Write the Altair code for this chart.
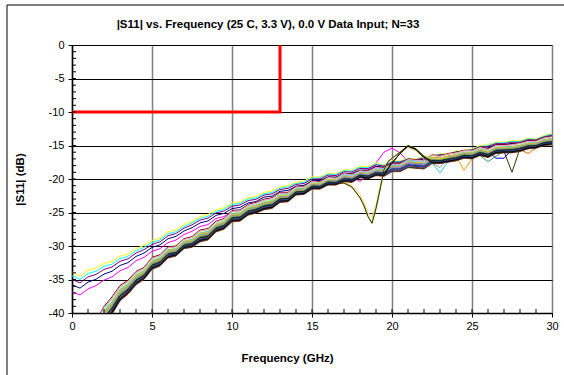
import altair as alt
import pandas as pd

# ---------------- data ----------------
FREQ = [0.0, 0.5, 1.0, 1.5, 2.0, 2.5, 3.0, 3.5, 4.0, 4.5, 5.0, 5.5, 6.0, 6.5, 7.0, 7.5,
        8.0, 8.5, 9.0, 9.5, 10.0, 10.5, 11.0, 11.5, 12.0, 12.5, 13.0, 13.5, 14.0, 14.5,
        15.0, 15.5, 16.0, 16.5, 17.0, 17.5, 18.0, 18.5, 19.0, 19.5, 20.0, 20.5, 21.0,
        21.5, 22.0, 22.5, 23.0, 23.5, 24.0, 24.5, 25.0, 25.5, 26.0, 26.5, 27.0, 27.5,
        28.0, 28.5, 29.0, 29.5, 30.0]

# upper family (series 1-5): top edge (yellow) and bottom edge (magenta)
UPPER_TOP = [-33.9, -34.5, -33.6, -33.3, -32.6, -32.3, -31.5, -31.2, -30.4, -29.9,
             -29.2, -28.8, -27.9, -27.6, -26.8, -26.3, -25.6, -25.3, -24.6, -24.3,
             -23.6, -23.4, -22.8, -22.6, -22.0, -21.8, -21.2, -21.0, -20.5, -20.3,
             -19.7, -19.7, -19.1, -19.2, -18.6, -18.7, -18.1, -18.2, -17.6, -17.9,
             -17.3, -17.3, -16.9, -17.0, -16.6, -16.6, -16.2, -16.3, -15.8, -15.8,
             -15.5, -15.0, -14.9, -14.5, -14.5, -14.3, -14.3, -13.9, -14.0, -13.5, -13.2]
UPPER_BOT = [-36.9, -37.3, -36.4, -35.9, -35.1, -34.6, -33.7, -33.2, -32.2, -31.7,
             -30.8, -30.4, -29.5, -29.1, -28.3, -27.8, -27.1, -26.8, -25.9, -25.6,
             -24.9, -24.7, -24.0, -23.8, -23.1, -23.0, -22.2, -22.1, -21.4, -21.3,
             -20.6, -20.5, -20.0, -20.0, -19.5, -19.4, -19.0, -18.9, -18.4, -18.4,
             -17.8, -17.8, -17.4, -17.5, -17.2, -17.1, -16.7, -16.8, -16.3, -16.3,
             -16.0, -15.7, -15.6, -15.1, -15.1, -14.9, -14.9, -14.5, -14.5, -14.1, -13.9]
# lower family (series 6-33): left/top edge and right/bottom edge
LOWER_TOP = [-47.0, -45.5, -43.6, -41.2, -39.0, -37.6, -35.9, -35.1, -33.8, -33.2,
             -31.7, -31.3, -30.1, -30.0, -28.9, -28.6, -27.6, -27.4, -26.3, -25.9,
             -24.7, -24.6, -23.8, -23.5, -23.0, -22.8, -22.0, -22.0, -21.1, -21.1,
             -20.3, -20.4, -19.7, -19.8, -19.1, -19.3, -18.7, -18.8, -18.2, -18.3,
             -17.7, -17.7, -17.0, -17.1, -17.2, -16.4, -16.5, -16.2, -16.0, -15.7,
             -15.7, -15.2, -15.5, -14.9, -14.9, -14.8, -14.6, -14.3, -14.3, -13.8, -13.6]
LOWER_BOT = [-50.0, -48.5, -46.3, -43.8, -41.6, -40.2, -38.2, -37.2, -35.8, -35.0,
             -33.5, -33.0, -31.8, -31.5, -30.4, -30.2, -29.4, -29.1, -27.9, -27.5,
             -26.4, -26.3, -25.4, -25.1, -24.6, -24.4, -23.5, -23.4, -22.4, -22.3,
             -21.5, -21.5, -20.9, -20.9, -20.4, -20.5, -19.8, -20.0, -19.5, -19.6,
             -18.9, -18.9, -18.3, -18.4, -18.5, -17.7, -17.7, -17.5, -17.3, -16.9,
             -17.0, -16.5, -16.8, -16.2, -16.1, -16.1, -15.9, -15.5, -15.4, -15.0, -14.9]

SERIES_COLORS = ["#000080", "#FF00FF", "#FFFF00", "#00FFFF", "#800080", "#800000",
                 "#008080", "#0000FF", "#00CCFF", "#CCFFFF", "#CCFFCC", "#FFFF99",
                 "#99CCFF", "#FF99CC", "#CC99FF", "#FFCC99", "#3366FF", "#33CCCC",
                 "#99CC00", "#FFCC00", "#FF9900", "#FF6600", "#666699", "#969696",
                 "#003366", "#339966", "#003300", "#333300", "#993300", "#993366",
                 "#333399", "#333333", "#000000"]
# position of each series inside its family band (0 = top edge, 1 = bottom edge)
UPPER_POS = [0.64, 1.0, 0.0, 0.18, 0.36]
LOWER_POS = [0.0, 0.3, 0.45, 0.12, 0.22, 0.4, 0.18, 0.35, 0.08, 0.5, 0.55, 0.62, 0.26,
             0.48, 0.33, 0.68, 0.75, 0.58, 0.42, 0.7, 0.8, 0.65, 0.85, 1.0, 0.9, 0.78,
             0.95, 0.88]

# local features (freq -> dB)
DIP_A = {17.0: -20.6, 17.5: -21.2, 18.0: -22.8, 18.25: -24.0, 18.5: -25.6, 18.75: -26.6,
         19.0: -24.4, 19.25: -21.6, 19.5: -18.6, 19.75: -17.4, 20.0: -16.9, 20.5: -16.0,
         21.0: -15.0, 21.5: -15.5, 22.0: -16.6}
DIP_B = {17.0: -20.4, 17.5: -20.9, 18.0: -22.3, 18.25: -23.5, 18.5: -25.0, 18.75: -25.8,
         19.0: -23.9, 19.25: -21.2, 19.5: -18.5, 19.75: -17.5, 20.0: -17.0, 20.5: -16.1,
         21.0: -15.3, 21.5: -15.8, 22.0: -16.9}
BUMP = {20.0: -17.6, 20.5: -16.2, 21.0: -15.1, 21.5: -15.6, 22.0: -16.8}
MAGENTA_BUMP = {17.5: -19.6, 18.0: -20.4, 18.5: -19.3, 19.0: -17.6, 19.5: -16.0,
                20.0: -15.4, 20.5: -16.1, 21.0: -17.4}
OLIVE_V = {27.0: -15.9, 27.5: -19.0, 28.0: -15.4}
BLUE_DIP = {26.0: -15.9, 26.5: -16.9, 27.0: -16.9, 27.5: -15.6}
GREEN_DIP = {25.5: -16.5, 26.0: -17.4, 26.5: -16.6}
ORANGE_DIP = {24.0: -16.6, 24.5: -18.7, 25.0: -17.0}
ORANGE2_DIP = {28.0: -15.6, 28.5: -16.2, 29.0: -15.4}
CYAN_DIP = {22.5: -17.6, 23.0: -19.1, 23.5: -17.4}
PALE_DIP = {22.5: -17.8, 23.0: -18.8, 23.5: -17.5}
GRAY_DIP = {22.5: -17.6, 23.0: -18.3}
FEATURES = {2: [MAGENTA_BUMP], 11: [DIP_A], 12: [DIP_B], 16: [DIP_B], 19: [DIP_A],
            28: [DIP_A, OLIVE_V], 21: [BUMP, ORANGE_DIP], 27: [BUMP], 33: [BUMP],
            8: [BLUE_DIP], 26: [GREEN_DIP], 22: [ORANGE2_DIP], 18: [CYAN_DIP],
            10: [PALE_DIP], 24: [GRAY_DIP]}

SPEC_F = [0, 13, 13]
SPEC_DB = [-10, -10, 0]

X_TICKS = [0, 5, 10, 15, 20, 25, 30]
Y_TICKS = [0, -5, -10, -15, -20, -25, -30, -35, -40]
X_MINOR = list(range(1, 30))
Y_MINOR = list(range(-39, 0))

TITLE = "|S11| vs. Frequency (25 C, 3.3 V), 0.0 V Data Input; N=33"

# ---------------- build table ----------------
rows = []
names = []
for i in range(33):
    if i < 5:
        top, bot, t = UPPER_TOP, UPPER_BOT, UPPER_POS[i]
    else:
        top, bot, t = LOWER_TOP, LOWER_BOT, LOWER_POS[i - 5]
    pts = {f: a + t * (b - a) for f, a, b in zip(FREQ, top, bot)}
    for feat in FEATURES.get(i + 1, []):
        pts.update(feat)
    name = f"S{i + 1:02d}"
    names.append(name)
    for f in sorted(pts):
        rows.append({"series": name, "f": f, "db": round(pts[f], 2)})
curves = pd.DataFrame(rows)

W, H = 480, 268
FONT = "Liberation Sans"

x_scale = alt.Scale(domain=[0, 30], nice=False, zero=False)
y_scale = alt.Scale(domain=[-40, 0], nice=False, zero=False)
x_axis = alt.Axis(values=X_TICKS, title="Frequency (GHz)", grid=True, gridColor="#808080",
                  gridWidth=1.5, domainColor="#000000", domainWidth=1.5, tickColor="#000000",
                  tickSize=4, labelPadding=3, labelFontSize=11, labelFont=FONT,
                  labelColor="#000000", titleFont=FONT, titleFontSize=11.5,
                  titleFontWeight="bold", titleColor="#000000", titleX=215, titleY=45,
                  titleBaseline="middle", titleAlign="center", labelFlush=False,
                  labelExpr="datum.value + ''")
y_axis = alt.Axis(values=Y_TICKS, title="|S11| (dB)", grid=True, gridColor="#000000",
                  gridWidth=1, domainColor="#000000", domainWidth=1.5, tickColor="#000000",
                  tickSize=4, labelPadding=4, labelFontSize=11, labelFont=FONT,
                  labelColor="#000000", titleFont=FONT, titleFontSize=11.5,
                  titleFontWeight="bold", titleColor="#000000", titleX=-52, titleY=H / 2,
                  titleBaseline="middle", titleAlign="center",
                  labelExpr="datum.value + ''")

X = alt.X("f:Q", scale=x_scale, axis=x_axis)
Y = alt.Y("db:Q", scale=y_scale, axis=y_axis)

lines = alt.Chart(curves).mark_line(strokeWidth=1, clip=True).encode(
    x=X, y=Y,
    color=alt.Color("series:N", scale=alt.Scale(domain=names, range=SERIES_COLORS),
                    legend=None),
    order=alt.Order("f:Q"),
)

spec = alt.Chart(pd.DataFrame({"f": SPEC_F, "db": SPEC_DB, "k": [0, 1, 2]})).mark_line(
    color="#FF0000", strokeWidth=3, clip=True).encode(x=X, y=Y, order=alt.Order("k:Q"))

yminor = alt.Chart(pd.DataFrame({"db": Y_MINOR})).mark_rule(color="#000000").encode(
    y=Y, x=alt.value(0), x2=alt.value(4))
xminor = alt.Chart(pd.DataFrame({"f": X_MINOR})).mark_rule(color="#000000").encode(
    x=X, y=alt.value(H), y2=alt.value(H - 4))

frame_l = alt.Chart(pd.DataFrame({"a": [0]})).mark_rule(color="#000000", strokeWidth=1).encode(
    x=alt.value(-65), y=alt.value(-40), y2=alt.value(340))
frame_t = alt.Chart(pd.DataFrame({"a": [0]})).mark_rule(color="#000000", strokeWidth=1).encode(
    x=alt.value(-65), x2=alt.value(500), y=alt.value(-40))

chart = alt.layer(lines, spec, yminor, xminor, frame_l, frame_t).properties(
    width=W, height=H,
    title=alt.TitleParams(TITLE, font=FONT, fontSize=11.5, fontWeight="bold", color="#000000",
                          anchor="middle", dx=-44, offset=0, dy=26),
    autosize=alt.AutoSizeParams(type="none"),
    padding={"left": 72, "top": 45, "right": 12, "bottom": 62},
).configure_view(stroke=None).configure(background="#FFFFFF")

chart.save("out.html", embed_options={"renderer": "svg", "actions": False})
